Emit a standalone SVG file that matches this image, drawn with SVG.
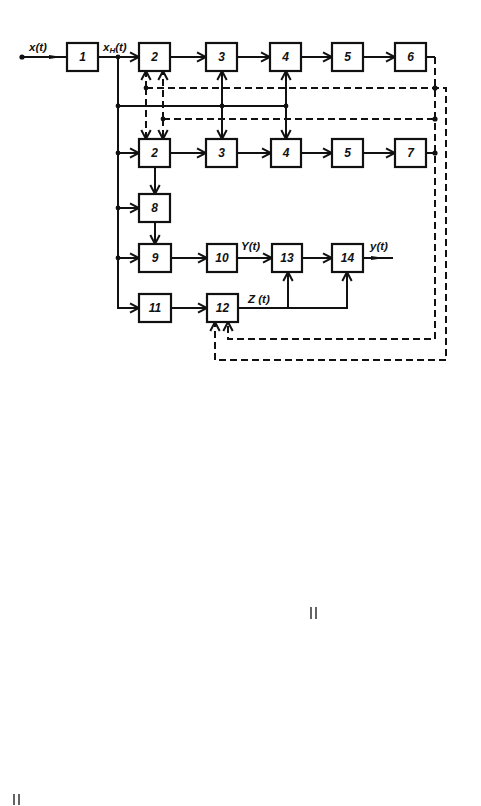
<svg xmlns="http://www.w3.org/2000/svg" width="481" height="806" viewBox="0 0 481 806">
<defs>
<style>
.box{fill:#fff;stroke:#111;stroke-width:2.2}
.ln{fill:none;stroke:#111;stroke-width:2}
.ds{fill:none;stroke:#111;stroke-width:2;stroke-dasharray:7 4}
.t{font-family:"Liberation Sans",Arial,sans-serif;font-size:11.5px;font-weight:bold;font-style:italic;fill:#111}
.n{font-family:"Liberation Sans",Arial,sans-serif;font-size:12px;font-weight:bold;font-style:italic;fill:#111;text-anchor:middle}
.dot{fill:#111}
</style>
<marker id="a" markerUnits="userSpaceOnUse" markerWidth="12" markerHeight="12" refX="10" refY="5.5" orient="auto-start-reverse" viewBox="0 0 12 11">
<path d="M1,0.8 L10,5.5 L1,10.2" fill="none" stroke="#111" stroke-width="2"/>
</marker>
</defs>
<rect width="481" height="806" fill="#fff"/>
<g id="connectors">
<path class="ln" d="M22,57 H67"/>
<path d="M49,55 L62,57 L49,59 Z" fill="#111"/>
<path class="ln" d="M98,57 H139" marker-end="url(#a)"/>
<path class="ln" d="M118,57 V308 H139" marker-end="url(#a)"/>
<path class="ln" d="M118,153 H139" marker-end="url(#a)"/>
<path class="ln" d="M118,208 H139" marker-end="url(#a)"/>
<path class="ln" d="M118,258 H139" marker-end="url(#a)"/>
<path class="ln" d="M170,57 H206" marker-end="url(#a)"/>
<path class="ln" d="M237,57 H270" marker-end="url(#a)"/>
<path class="ln" d="M301,57 H332" marker-end="url(#a)"/>
<path class="ln" d="M363,57 H395" marker-end="url(#a)"/>
<path class="ln" d="M426,57 H435"/>
<path class="ds" d="M435,57 V339 H228 V322" marker-end="url(#a)"/>
<path class="ds" d="M146,88 H446 V360 H215 V322" marker-end="url(#a)"/>
<path class="ds" d="M163,119 H435"/>
<path class="ds" d="M146,88 V71" marker-end="url(#a)"/>
<path class="ds" d="M146,88 V139" marker-end="url(#a)"/>
<path class="ds" d="M163,119 V71" marker-end="url(#a)"/>
<path class="ds" d="M163,119 V139" marker-end="url(#a)"/>
<path class="ln" d="M118,106 H286"/>
<path class="ln" d="M222,71 V139" marker-start="url(#a)" marker-end="url(#a)"/>
<path class="ln" d="M286,71 V139" marker-start="url(#a)" marker-end="url(#a)"/>
<path class="ln" d="M170,153 H206" marker-end="url(#a)"/>
<path class="ln" d="M237,153 H271" marker-end="url(#a)"/>
<path class="ln" d="M301,153 H332" marker-end="url(#a)"/>
<path class="ln" d="M363,153 H395" marker-end="url(#a)"/>
<path class="ln" d="M426,153 H435"/>
<path class="ln" d="M155,167 V194" marker-end="url(#a)"/>
<path class="ln" d="M155,222 V244" marker-end="url(#a)"/>
<path class="ln" d="M171,258 H207" marker-end="url(#a)"/>
<path class="ln" d="M237,258 H272" marker-end="url(#a)"/>
<path class="ln" d="M302,258 H332" marker-end="url(#a)"/>
<path class="ln" d="M363,258 H393"/>
<path d="M371,256 L385,258 L371,260 Z" fill="#111"/>
<path class="ln" d="M171,308 H207" marker-end="url(#a)"/>
<path class="ln" d="M238,308 H347 V272" marker-end="url(#a)"/>
<path class="ln" d="M288,308 V272" marker-end="url(#a)"/>
<circle class="dot" cx="22" cy="57" r="2.6"/>
<circle class="dot" cx="118" cy="57" r="2.4"/>
<circle class="dot" cx="118" cy="106" r="2.4"/>
<circle class="dot" cx="118" cy="153" r="2.4"/>
<circle class="dot" cx="118" cy="208" r="2.4"/>
<circle class="dot" cx="118" cy="258" r="2.4"/>
<circle class="dot" cx="146" cy="88" r="2.4"/>
<circle class="dot" cx="163" cy="119" r="2.4"/>
<circle class="dot" cx="222" cy="106" r="2.4"/>
<circle class="dot" cx="286" cy="106" r="2.4"/>
<circle class="dot" cx="435" cy="88" r="2.6"/>
<circle class="dot" cx="435" cy="119" r="2.6"/>
<circle class="dot" cx="435" cy="153" r="2.6"/>
<text class="t" x="29" y="51">x(t)</text>
<text class="t" x="103" y="51">x<tspan font-size="8" dy="2">H</tspan><tspan dy="-2">(t)</tspan></text>
<text class="t" x="241" y="250">Y(t)</text>
<text class="t" x="248" y="303">Z (t)</text>
<text class="t" x="370" y="250">y(t)</text>
</g>
<g id="n1"><rect class="box" x="67" y="43" width="31" height="28"/><text class="n" x="82.5" y="61">1</text></g>
<g id="n2a"><rect class="box" x="139" y="43" width="31" height="28"/><text class="n" x="154.5" y="61">2</text></g>
<g id="n3a"><rect class="box" x="206" y="43" width="31" height="28"/><text class="n" x="221.5" y="61">3</text></g>
<g id="n4a"><rect class="box" x="270" y="43" width="31" height="28"/><text class="n" x="285.5" y="61">4</text></g>
<g id="n5a"><rect class="box" x="332" y="43" width="31" height="28"/><text class="n" x="347.5" y="61">5</text></g>
<g id="n6"><rect class="box" x="395" y="43" width="31" height="28"/><text class="n" x="410.5" y="61">6</text></g>
<g id="n2b"><rect class="box" x="139" y="139" width="31" height="28"/><text class="n" x="154.5" y="157">2</text></g>
<g id="n3b"><rect class="box" x="206" y="139" width="31" height="28"/><text class="n" x="221.5" y="157">3</text></g>
<g id="n4b"><rect class="box" x="271" y="139" width="30" height="28"/><text class="n" x="286" y="157">4</text></g>
<g id="n5b"><rect class="box" x="332" y="139" width="31" height="28"/><text class="n" x="347.5" y="157">5</text></g>
<g id="n7"><rect class="box" x="395" y="139" width="31" height="28"/><text class="n" x="410.5" y="157">7</text></g>
<g id="n8"><rect class="box" x="139" y="194" width="31" height="28"/><text class="n" x="154.5" y="212">8</text></g>
<g id="n9"><rect class="box" x="139" y="244" width="32" height="28"/><text class="n" x="155" y="262">9</text></g>
<g id="n10"><rect class="box" x="207" y="244" width="30" height="28"/><text class="n" x="222" y="262">10</text></g>
<g id="n13"><rect class="box" x="272" y="244" width="30" height="28"/><text class="n" x="287" y="262">13</text></g>
<g id="n14"><rect class="box" x="332" y="244" width="31" height="28"/><text class="n" x="347.5" y="262">14</text></g>
<g id="n11"><rect class="box" x="139" y="294" width="32" height="28"/><text class="n" x="155" y="312">11</text></g>
<g id="n12"><rect class="box" x="207" y="294" width="31" height="28"/><text class="n" x="222.5" y="312">12</text></g>
<g id="marks">
<path d="M311,607 V619 M316,607 V619 M14,794 V805 M19,794 V805" stroke="#111" stroke-width="1.3"/>
</g>
</svg>
